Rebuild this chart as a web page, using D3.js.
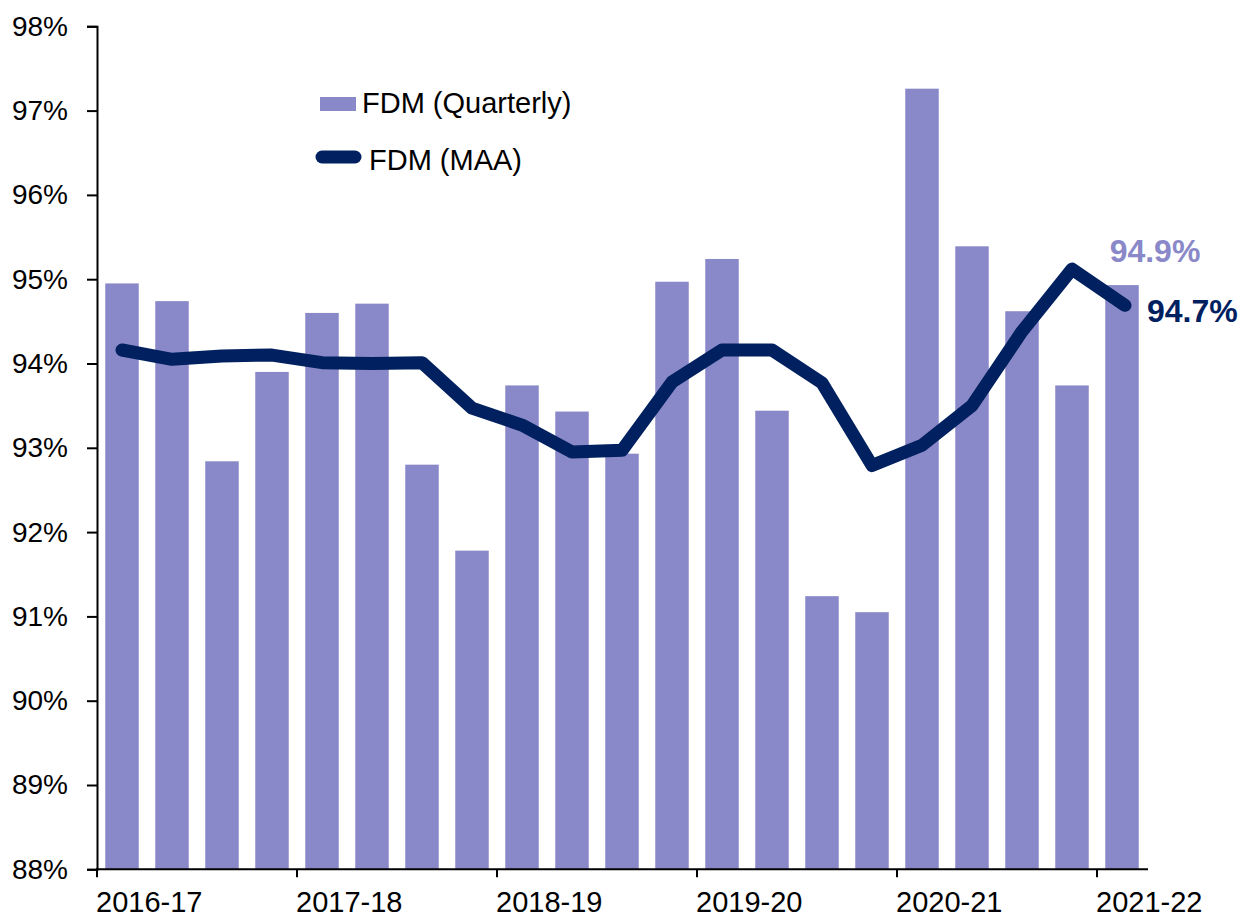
<!DOCTYPE html>
<html>
<head>
<meta charset="utf-8">
<script src="https://cdn.jsdelivr.net/npm/d3@7"></script>
<style>
    body { margin: 0; background: #fff; }
    text { font-family: "Liberation Sans", Arial, sans-serif; }
</style>
</head>
<body>
<div id="chart"></div>
<script>
var quarters = [
    "2016-17 Q1", "2016-17 Q2", "2016-17 Q3", "2016-17 Q4",
    "2017-18 Q1", "2017-18 Q2", "2017-18 Q3", "2017-18 Q4",
    "2018-19 Q1", "2018-19 Q2", "2018-19 Q3", "2018-19 Q4",
    "2019-20 Q1", "2019-20 Q2", "2019-20 Q3", "2019-20 Q4",
    "2020-21 Q1", "2020-21 Q2", "2020-21 Q3", "2020-21 Q4",
    "2021-22 Q1"
];
var fdmQuarterly = [
    94.95, 94.74, 92.84, 93.90,
    94.60, 94.71, 92.80, 91.78,
    93.74, 93.43, 92.93, 94.97,
    95.24, 93.44, 91.24, 91.05,
    97.26, 95.39, 94.62, 93.74,
    94.93
];
var fdmMAA = [
    94.16, 94.05, 94.09, 94.10,
    94.01, 94.00, 94.01, 93.47,
    93.27, 92.95, 92.97, 93.78,
    94.16, 94.16, 93.77, 92.79,
    93.03, 93.50, 94.38, 95.12,
    94.69
];
var yearLabels = ["2016-17", "2017-18", "2018-19", "2019-20", "2020-21", "2021-22"];
var yTicks = [88, 89, 90, 91, 92, 93, 94, 95, 96, 97, 98];

var BARCOLOR = "#8988c8";
var LINECOLOR = "#00205f";

var svg = d3.select("#chart").append("svg")
    .attr("width", 1252)
    .attr("height", 918);

var x = d3.scaleBand()
    .domain(quarters)
    .range([97, 1147])
    .paddingInner(0.33)
    .paddingOuter(0.165);

var y = d3.scaleLinear()
    .domain([88, 98])
    .range([869.3, 26.3]);

// bars
svg.append("g").selectAll("rect")
    .data(fdmQuarterly)
    .enter().append("rect")
    .attr("x", function(d, i) { return x(quarters[i]); })
    .attr("y", function(d) { return y(d); })
    .attr("width", x.bandwidth())
    .attr("height", function(d) { return y(88) - y(d); })
    .attr("fill", BARCOLOR);

// moving annual average line
var line = d3.line()
    .x(function(d, i) { return x(quarters[i]) + x.bandwidth() / 2 + (i === quarters.length - 1 ? 3 : 0); })
    .y(function(d) { return y(d); });

svg.append("path")
    .datum(fdmMAA)
    .attr("d", line)
    .attr("fill", "none")
    .attr("stroke", LINECOLOR)
    .attr("stroke-width", 13)
    .attr("stroke-linejoin", "round")
    .attr("stroke-linecap", "round");

// y axis
var yAxis = svg.append("g")
    .attr("transform", "translate(97,0)")
    .call(d3.axisLeft(y)
        .tickValues(yTicks)
        .tickSize(10)
        .tickPadding(19)
        .tickFormat(function(d) { return d + "%"; }));
yAxis.select(".domain").attr("stroke", "#000").attr("stroke-width", 2);
yAxis.selectAll(".tick line").attr("stroke", "#000").attr("stroke-width", 2);
yAxis.selectAll(".tick text")
    .attr("font-size", 28)
    .attr("font-family", "Liberation Sans, Arial, sans-serif")
    .attr("fill", "#000");

// x axis: ticks on the boundary before each Q1, labels start at the tick
var gap = (x.step() - x.bandwidth()) / 2;
var xAxis = svg.append("g");
xAxis.append("line")
    .attr("x1", 96)
    .attr("x2", 1148)
    .attr("y1", y(88))
    .attr("y2", y(88))
    .attr("stroke", "#000")
    .attr("stroke-width", 2);

var yearTicks = xAxis.selectAll(".yr")
    .data(yearLabels)
    .enter().append("g")
    .attr("class", "yr")
    .attr("transform", function(d) { return "translate(" + (x(d + " Q1") - gap) + "," + y(88) + ")"; });
yearTicks.append("line")
    .attr("y1", 0)
    .attr("y2", 8)
    .attr("stroke", "#000")
    .attr("stroke-width", 2);
yearTicks.append("text")
    .attr("x", -1)
    .attr("y", 43)
    .attr("font-size", 29)
    .attr("fill", "#000")
    .text(function(d) { return d; });

// legend
var legend = svg.append("g");
legend.append("rect")
    .attr("x", 320)
    .attr("y", 97)
    .attr("width", 36)
    .attr("height", 14)
    .attr("fill", BARCOLOR);
legend.append("text")
    .attr("x", 362)
    .attr("y", 113)
    .attr("font-size", 29)
    .attr("fill", "#000")
    .text("FDM (Quarterly)");
legend.append("line")
    .attr("x1", 322)
    .attr("x2", 355)
    .attr("y1", 157)
    .attr("y2", 157)
    .attr("stroke", LINECOLOR)
    .attr("stroke-width", 13)
    .attr("stroke-linecap", "round");
legend.append("text")
    .attr("x", 369)
    .attr("y", 170)
    .attr("font-size", 29)
    .attr("fill", "#000")
    .text("FDM (MAA)");

// end labels for the latest quarter
var last = quarters.length - 1;
svg.append("text")
    .attr("x", x(quarters[last]) + x.bandwidth() / 2 + 33)
    .attr("y", 262)
    .attr("text-anchor", "middle")
    .attr("font-size", 32)
    .attr("font-weight", "bold")
    .attr("fill", BARCOLOR)
    .text(fdmQuarterly[last].toFixed(1) + "%");
svg.append("text")
    .attr("x", 1147)
    .attr("y", 322)
    .attr("font-size", 32)
    .attr("font-weight", "bold")
    .attr("fill", LINECOLOR)
    .text(fdmMAA[last].toFixed(1) + "%");
</script>
</body>
</html>
